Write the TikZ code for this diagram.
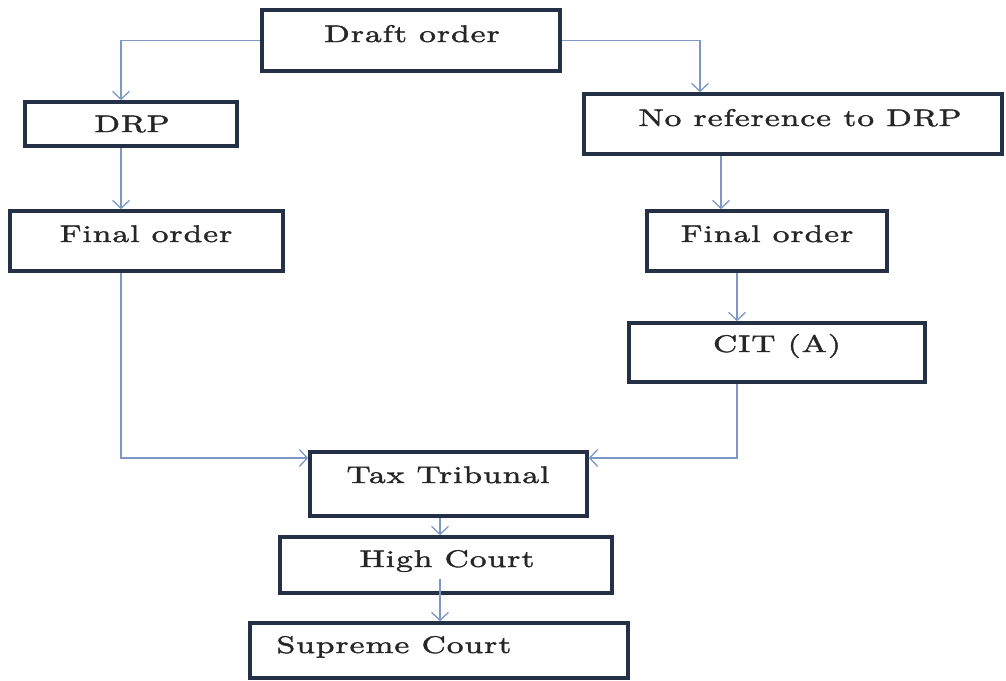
\documentclass[tikz,border=0pt]{standalone}
\usepackage{fontspec}
\usetikzlibrary{arrows.meta}
\newfontfamily\tfont{lmroman10-regular.otf}[FakeBold=1.6,FakeStretch=1.4,LetterSpace=4]
\definecolor{conncol}{RGB}{125,152,196}
\definecolor{boxcol}{RGB}{35,48,70}
\tikzset{
  box/.style={draw=boxcol, line width=3.6pt, inner sep=0pt, fill=white},
  txt/.style={anchor=base, inner sep=0pt, font=\tfont\fontsize{24}{28}\selectfont, text=black!85},
  conn/.style={draw=conncol, line width=1.4pt, -{Straight Barb[length=8pt,width=17pt,line width=1.3pt]}},
}
\begin{document}
\begin{tikzpicture}[x=1pt,y=-1pt]
\useasboundingbox (0,0) rectangle (1006,680);
% boxes
\node[box, minimum width=298pt, minimum height=61pt] (d)   at (411,40.5) {};
\node[box, minimum width=212pt, minimum height=44pt] (drp) at (131,124) {};
\node[box, minimum width=273pt, minimum height=60pt] (fl)  at (146.5,241) {};
\node[box, minimum width=418pt, minimum height=60pt] (nr)  at (793,124) {};
\node[box, minimum width=240pt, minimum height=60pt] (fr)  at (767,241) {};
\node[box, minimum width=296pt, minimum height=59pt] (cit) at (777,352.5) {};
\node[box, minimum width=277pt, minimum height=64pt] (tt)  at (448.5,484) {};
\node[box, minimum width=332pt, minimum height=56pt] (hc)  at (446,565) {};
\node[box, minimum width=378pt, minimum height=55pt] (sc)  at (439,650.5) {};
% texts
\node[txt] (dT)   at (412,42)  {Draft order};
\node[txt] (drpT) at (132,132) {DRP};
\node[txt] (flT)  at (146,242) {Final order};
\node[txt] (nrT)  at (800,126) {No reference to DRP};
\node[txt] (frT)  at (767,242) {Final order};
\node[txt] (citT) at (777,352) {CIT (A)};
\node[txt] (ttT)  at (448,483) {Tax Tribunal};
\node[txt] (hcT)  at (447,567) {High Court};
\node[txt] (scT)  at (394,653) {Supreme Court};
% connectors
\draw[conn] (d.west) -| ([xshift=-10pt]drp.north);
\draw[conn] (d.east) -| ([xshift=-93pt]nr.north);
\draw[conn] ([xshift=-10pt]drp.south) -- ([xshift=-10pt]drp.south |- fl.north);
\draw[conn] ([xshift=-72pt]nr.south) -- ([xshift=-72pt]nr.south |- fr.north);
\draw[conn] ([xshift=-30pt]fr.south) -- ([xshift=-30pt]fr.south |- cit.north);
\draw[conn] ([xshift=-25.5pt]fl.south) |- ([yshift=26pt]tt.west);
\draw[conn] ([xshift=-40pt]cit.south) |- ([yshift=26pt]tt.east);
\draw[conn] ([xshift=-8.5pt]tt.south) -- ([xshift=-8.5pt]tt.south |- hc.north);
\draw[conn] ([xshift=-6pt,yshift=16pt]hc.south) -- ([xshift=-6pt]hc.south |- sc.north);
\end{tikzpicture}
\end{document}
